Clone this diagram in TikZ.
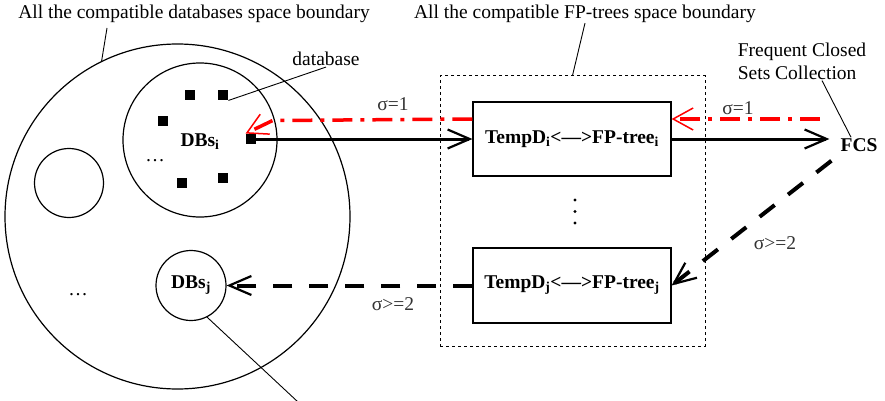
\documentclass[tikz,border=0pt]{standalone}
\usepackage{fontspec}
\setmainfont{Liberation Serif}
\usetikzlibrary{arrows.meta}
\begin{document}
\begin{tikzpicture}[x=1pt,y=-1pt,
  every node/.style={font=\fontsize{19.5}{23}\selectfont},
  ring/.style={circle,draw,line width=1.2pt,inner sep=0pt},
  dbsq/.style={rectangle,fill=black,minimum size=10.5pt,inner sep=0pt},
  treebox/.style={rectangle,draw,line width=1.2pt,minimum width=198pt,minimum height=74pt,font=\bfseries\fontsize{19.5}{23}\selectfont},
  lbl/.style={inner sep=1pt},
  sig/.style={text=black!80,inner sep=1pt},
  leader/.style={line width=0.9pt},
  barb/.style={-{Straight Barb[length=22pt,width=19pt,line width=2.2pt]}},
  solidarr/.style={barb,line width=3pt},
  dasharr/.style={barb,line width=4pt,dash pattern=on 19pt off 17pt},
  redarr/.style={red,line width=3.5pt,dash pattern=on 20pt off 8pt on 4pt off 8pt,-{Straight Barb[length=20pt,width=22pt,line width=1.5pt]}},
]
\useasboundingbox (0,0) rectangle (885,401);

% circles
\node[ring,minimum size=345pt] (big) at (177.5,216.5) {};
\node[ring,minimum size=154pt] (dbsi) at (200,140) {};
\node[ring,minimum size=69pt] (other) at (69,183) {};
\node[ring,minimum size=70pt,font=\bfseries\fontsize{19.5}{23}\selectfont] (dbsj) at (191,285.5) {DBs\textsubscript{j}};

% databases
\node[dbsq] (sq1) at (190,95) {};
\node[dbsq] (sq2) at (223,95) {};
\node[dbsq] (sq3) at (163,121) {};
\node[dbsq] (sq4) at (251,139) {};
\node[dbsq] (sq5) at (182,183) {};
\node[dbsq] (sq6) at (223,178) {};
\node[lbl,font=\bfseries\fontsize{19.5}{23}\selectfont] (dbsitxt) at (200,142) {DBs\textsubscript{i}};
\node[lbl] (dotsi) at (155,161) {…};
\node[lbl] (dotsbig) at (78,295) {…};

% FP-tree space
\node[rectangle,draw,line width=1pt,dash pattern=on 3pt off 3pt,minimum width=265pt,minimum height=270pt] (fpspace) at (572.5,211) {};
\node[treebox] (boxi) at (572,139) {TempD\textsubscript{i}<—>FP-tree\textsubscript{i}};
\node[treebox,minimum height=75pt] (boxj) at (572,285.5) {TempD\textsubscript{j}<—>FP-tree\textsubscript{j}};
\fill (575,200) circle (1.7pt);
\fill (575,211.5) circle (1.7pt);
\fill (575,223) circle (1.7pt);

% FCS
\node[lbl,font=\bfseries\fontsize{19.5}{23}\selectfont] (fcs) at (859,145) {FCS};
\node[lbl,align=left] (fcslbl) at (802,61) {Frequent Closed\\Sets Collection};

% labels
\node[lbl] (lblbig) at (194,14) {All the compatible databases space boundary};
\node[lbl] (lblfp) at (585,14) {All the compatible FP-trees space boundary};
\node[lbl] (dblbl) at (326,59) {database};
\coordinate (lblbigend) at (107,28);
\coordinate (dbsjend) at (298,402);
\coordinate (redstart) at (820,119);

% leaders
\draw[leader] (big.116) -- (lblbigend);
\draw[leader] (sq2.south east) -- (dblbl.south);
\draw[leader] (fpspace.north) -- ([yshift=1pt]lblfp.south);
\draw[leader] ([xshift=20pt]fcslbl.south) -- ([xshift=-8pt]fcs.north);
\draw[leader] (dbsj.-63) -- (dbsjend);

% connectors
\draw[solidarr] (sq4.east) -- (boxi.west);
\draw[solidarr] (boxi.east) -- ([xshift=-10pt]boxi.east -| fcs.west);
\draw[redarr] (redstart) -- ([yshift=20pt]boxi.east);
\draw[redarr] ([yshift=20pt]boxi.west) -- ([shift={(27pt,13pt)}]sq4.north west) -- (sq4.north west);
\draw[dasharr] ([shift={(-8pt,-8pt)}]fcs.south west) -- (boxj.east);
\draw[dasharr] (boxj.west) -- (dbsj.east);

% sigma labels
\node[sig] (s1) at (393,104) {σ=1};
\node[sig] (s2) at (738,108) {σ=1};
\node[sig] (s3) at (775,243) {σ>=2};
\node[sig] (s4) at (393,304) {σ>=2};
\end{tikzpicture}
\end{document}
